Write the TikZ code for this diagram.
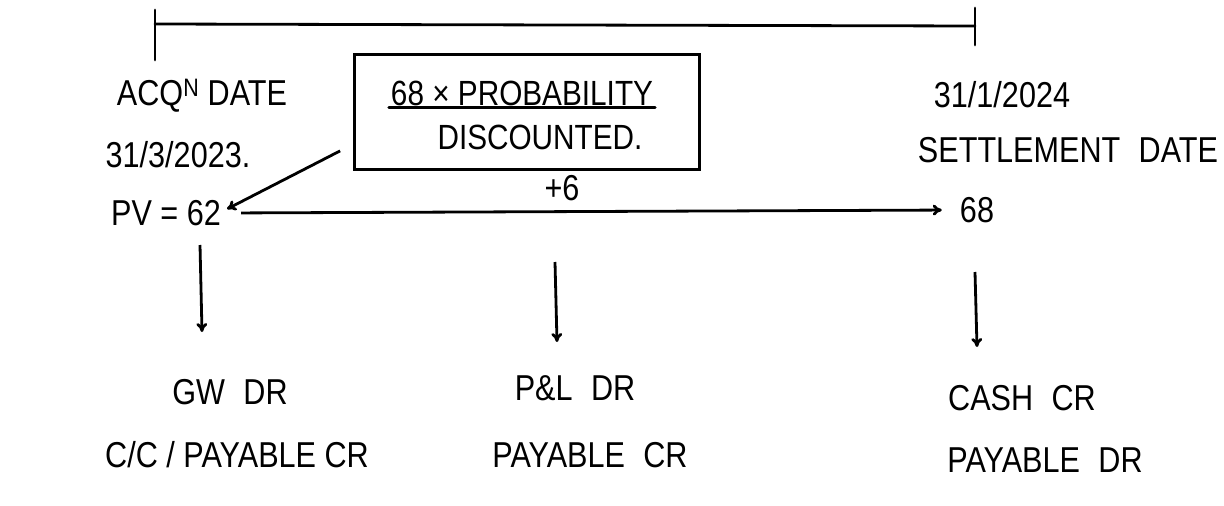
\documentclass[tikz,border=0pt]{standalone}
\usepackage{fontspec}
\setmainfont{Liberation Sans}
\usetikzlibrary{arrows.meta}
\newcommand\hw[1]{\scalebox{0.85}[1]{#1}}
\newcommand\gap{\hspace{0.6em}}
\tikzset{
  hand/.style={font=\fontsize{36}{40}\selectfont, inner sep=4pt, text=black},
  boxtext/.style={font=\fontsize{35}{40}\selectfont, inner sep=2pt},
  arr/.style={-{To[length=9pt,width=11pt]}, line width=2.8pt},
  ink/.style={line width=2.8pt, line cap=round}
}
\begin{document}
\begin{tikzpicture}[x=1pt,y=-1pt]
\useasboundingbox (0,0) rectangle (1224,506);
\fill[white] (0,0) rectangle (1224,506);
% timeline
\coordinate (t0) at (155,24);
\coordinate (t1) at (975,26);
\coordinate (t0a) at (155,10);
\coordinate (t0b) at (155,60);
\coordinate (t1a) at (975,8);
\coordinate (t1b) at (975,45);
\draw[ink] (t0) -- (t1);
\draw[ink] (t0a) -- (t0b);
\draw[ink] (t1a) -- (t1b);
% left labels
\node[hand] (acq) at (202,96) {\hw{ACQ\textsuperscript{N} DATE}};
\node[hand] (d1) at (178,155) {\hw{31/3/2023.}};
% box
\node[draw, ink, minimum width=345pt, minimum height=115pt] (box) at (527,112) {};
\node[boxtext] (num) at (522,93) {\hw{68 × PROBABILITY}};
\node[boxtext] (den) at (540,137) {\hw{DISCOUNTED.}};
\draw[ink] (num.south west) -- (num.south east);
% right labels
\node[hand] (d2) at (1002,95) {\hw{31/1/2024}};
\node[hand] (settle) at (1068,150) {\hw{SETTLEMENT\gap DATE}};
% middle row
\node[hand] (pv) at (166,213) {\hw{PV = 62}};
\node[hand] (v68) at (977,210) {\hw{68}};
\node[hand] (plus) at (562,188) {\hw{+6}};
\draw[arr] ([xshift=-13pt,yshift=20pt]box.south west) -- ([xshift=2pt,yshift=4pt]pv.east);
\draw[arr, shorten <=16pt, shorten >=14pt] (pv.east) -- (v68.west);
% bottom rows
\node[hand] (gw) at (230,392) {\hw{GW\gap DR}};
\node[hand] (pl) at (575,388) {\hw{P\&L\gap DR}};
\node[hand] (cash) at (1022,398) {\hw{CASH\gap CR}};
\node[hand] (cc) at (237,455) {\hw{C/C / PAYABLE CR}};
\node[hand] (pay1) at (590,455) {\hw{PAYABLE\gap CR}};
\node[hand] (pay2) at (1045,460) {\hw{PAYABLE\gap DR}};
% down arrows
\coordinate (a1s) at (200,245);
\coordinate (a1e) at (202,332);
\coordinate (a2s) at (555,262);
\coordinate (a2e) at (557,342);
\coordinate (a3s) at (975,272);
\coordinate (a3e) at (977,347);
\draw[arr] (a1s) -- (a1e);
\draw[arr] (a2s) -- (a2e);
\draw[arr] (a3s) -- (a3e);
\end{tikzpicture}
\end{document}
